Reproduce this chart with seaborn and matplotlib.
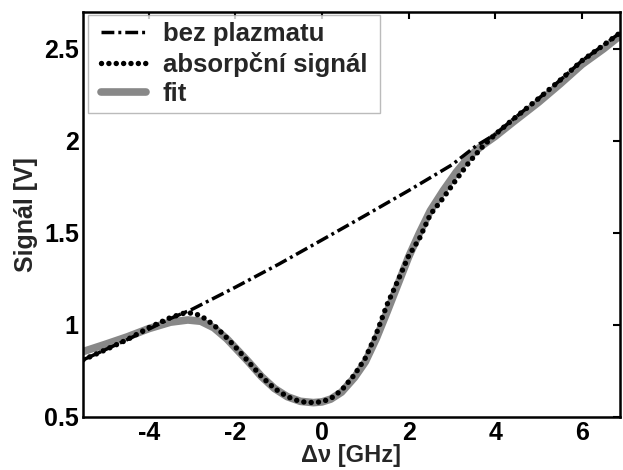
import numpy as np
import pandas as pd
import matplotlib
matplotlib.use("Agg")
import matplotlib.pyplot as plt
import seaborn as sns

# ---- data ----
x_base = [-5.52, -4.5, -3.5, -3.0, -2.0, -1.0, 0.0, 1.0, 2.0, 3.0, 3.57, 4.0, 4.4, 5.0, 5.5, 6.0, 6.5, 6.9]
y_base = [0.81, 0.92, 1.035, 1.085, 1.205, 1.33, 1.462, 1.595, 1.73, 1.87, 1.975, 2.035, 2.115, 2.23, 2.33, 2.435, 2.52, 2.59]

x_abs = [-5.52, -5.0, -4.5, -4.0, -3.5, -3.2, -3.0, -2.8, -2.5, -2.2, -2.0, -1.7, -1.4, -1.1,
         -0.8, -0.5, -0.2, 0.0, 0.2, 0.45, 0.75, 1.0, 1.25, 1.5, 1.75, 2.0, 2.25, 2.5, 2.8,
         3.1, 3.4, 3.73, 4.0, 4.4, 5.0, 5.5, 6.0, 6.5, 6.9]
y_abs = [0.81, 0.865, 0.92, 0.985, 1.04, 1.063, 1.065, 1.05, 1.00, 0.93, 0.88, 0.80, 0.72, 0.655,
         0.61, 0.583, 0.578, 0.583, 0.60, 0.645, 0.73, 0.82, 0.95, 1.11, 1.24, 1.375, 1.47, 1.60, 1.69,
         1.79, 1.885, 1.975, 2.035, 2.115, 2.23, 2.33, 2.435, 2.52, 2.59]

x_fit = [-5.52, -5.0, -4.5, -4.0, -3.5, -3.1, -2.8, -2.5, -2.2, -2.0, -1.7, -1.4, -1.1, -0.8,
         -0.5, -0.2, 0.0, 0.2, 0.45, 0.75, 1.0, 1.25, 1.5, 1.75, 2.0, 2.25, 2.5, 2.8, 3.1,
         3.4, 3.7, 4.0, 4.4, 5.0, 5.5, 6.0, 6.5, 6.9]
y_fit = [0.855, 0.895, 0.935, 0.98, 1.015, 1.027, 1.02, 0.985, 0.925, 0.875, 0.80, 0.72, 0.655, 0.61,
         0.585, 0.578, 0.582, 0.597, 0.635, 0.715, 0.80, 0.925, 1.07, 1.22, 1.37, 1.50, 1.62, 1.73, 1.83,
         1.915, 1.975, 2.025, 2.10, 2.21, 2.31, 2.415, 2.50, 2.575]

labels = ["bez plazmatu", "absorpční signál", "fit"]
x_ticks = [-4, -2, 0, 2, 4, 6]
y_ticks = [0.5, 1, 1.5, 2, 2.5]
y_tick_labels = ["0.5", "1", "1.5", "2", "2.5"]

sns.set_style("white")
plt.rcParams['font.family'] = ['Liberation Sans', 'DejaVu Sans']
plt.rcParams['font.weight'] = 'bold'
plt.rcParams['axes.unicode_minus'] = False

FS = 18
LFS = 18.5
DASHDOT = (3.7, 1.15, 0.85, 1.15)
DOTS = (0.01, 1.35)

fig = plt.figure(figsize=(6.23, 4.70), dpi=100)
ax = fig.add_axes([0.1332, 0.1128, 0.8620, 0.8617])

df_base = pd.DataFrame({"x": x_base, "y": y_base})
df_abs = pd.DataFrame({"x": x_abs, "y": y_abs})
df_fit = pd.DataFrame({"x": x_fit, "y": y_fit})

sns.lineplot(data=df_fit, x="x", y="y", ax=ax, color="#888888", linewidth=5.5,
             label=labels[2], zorder=2)
sns.lineplot(data=df_base, x="x", y="y", ax=ax, color="black", linewidth=2.5,
             label=labels[0], zorder=3)
sns.lineplot(data=df_abs, x="x", y="y", ax=ax, color="black", linewidth=3.9,
             label=labels[1], zorder=4)

lines = ax.get_lines()
lines[1].set_dashes(DASHDOT)
lines[2].set_dashes(DOTS)
lines[2].set_dash_capstyle("round")

ax.set_xlim(-5.52, 6.88)
ax.set_ylim(0.5, 2.7)
ax.set_xticks(x_ticks)
ax.set_yticks(y_ticks)
ax.set_yticklabels(y_tick_labels)
ax.tick_params(direction="in", top=True, right=True, length=5, width=1.5,
               labelsize=FS, pad=3, colors="black")
for lab in ax.get_xticklabels() + ax.get_yticklabels():
    lab.set_fontweight("bold")
for s in ax.spines.values():
    s.set_linewidth(1.8)
    s.set_color("black")
    s.set_visible(True)

ax.set_xlabel("Δν [GHz]", fontsize=17, fontweight="bold", labelpad=-0.5)
ax.set_ylabel("Signál [V]", fontsize=FS, fontweight="bold", labelpad=4)

h, l = ax.get_legend_handles_labels()
order = [1, 2, 0]
leg = ax.legend([h[i] for i in order], [l[i] for i in order], loc="upper left",
                bbox_to_anchor=(0.0242, 0.9876), borderaxespad=0.0,
                fontsize=LFS, frameon=True, fancybox=False, edgecolor="#aaaaaa",
                handlelength=1.75, labelspacing=0.22,
                borderpad=0.2, handletextpad=0.65)
frame = leg.get_frame()
frame.set_linewidth(1.0)
frame.set_boxstyle("square", pad=0.3)
frame.set_mutation_aspect(0.2)
for t in leg.get_texts():
    t.set_fontweight("bold")
lh = leg.legend_handles
lh[0].set_dashes(DASHDOT)
lh[1].set_dashes(DOTS)
lh[1].set_dash_capstyle("round")

fig.savefig("out.png", dpi=100)
